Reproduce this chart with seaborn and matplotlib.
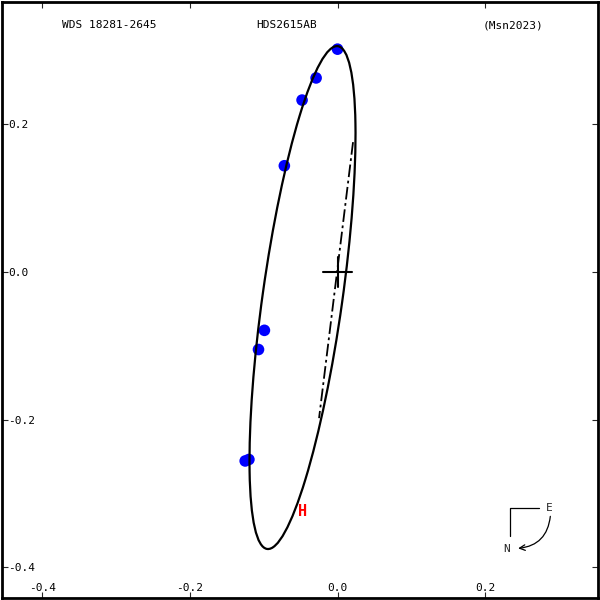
import matplotlib
matplotlib.use("Agg")
import matplotlib.pyplot as plt
from matplotlib.patches import Ellipse
import seaborn as sns

# measured positions of the companion (arcsec)
obs_x = [0.000, -0.029, -0.048, -0.072, -0.099, -0.107, -0.125, -0.120]
obs_y = [0.302, 0.263, 0.233, 0.144, -0.079, -0.105, -0.256, -0.254]
# Hipparcos point
hip_x = [-0.048]
hip_y = [-0.325]

# apparent orbit ellipse
orbit_center = (-0.0474, -0.0346)
orbit_semi_major = 0.344
orbit_semi_minor = 0.0540
orbit_angle = 82.0

# line of nodes end points
node_x = [0.021, -0.025]
node_y = [0.176, -0.198]

ticks = [-0.4, -0.2, 0.0, 0.2]
header = ["WDS 18281-2645", "HDS2615AB", "(Msn2023)"]

sns.set_style("white")
plt.rcParams['font.family'] = ['DejaVu Sans Mono']

fig = plt.figure(figsize=(6, 6), dpi=100)
ax = fig.add_axes([2 / 600, 2 / 600, 596 / 600, 596 / 600])
ax.set_xlim(-0.4543, 0.3527)
ax.set_ylim(-0.4417, 0.3659)

# observations (drawn below the orbit line)
sns.scatterplot(x=obs_x, y=obs_y, color='#0000ff', s=70, edgecolor='none',
                ax=ax, zorder=2, legend=False)

# orbit
orbit = Ellipse(orbit_center, 2 * orbit_semi_major, 2 * orbit_semi_minor,
                angle=orbit_angle, fill=False, edgecolor='black', lw=1.6,
                zorder=3)
ax.add_patch(orbit)

# line of nodes
ax.plot(node_x, node_y, color='black', lw=1.3, ls=(0, (7, 2, 1.5, 2)), zorder=3)

# primary
ax.plot([-0.02, 0.02], [0, 0], color='black', lw=1.5, zorder=4)
ax.plot([0, 0], [-0.02, 0.02], color='black', lw=1.5, zorder=4)

# Hipparcos marker
for hx, hy in zip(hip_x, hip_y):
    ax.text(hx, hy, "H", color='#ff0000', fontsize=11, fontweight='bold',
            ha='center', va='center', zorder=5)

# header line
ax.text(60 / 596, 1 - 23 / 596, header[0], transform=ax.transAxes,
        fontsize=8, ha='left', va='center', color='black')
ax.text(285 / 596, 1 - 23 / 596, header[1], transform=ax.transAxes,
        fontsize=8, ha='center', va='center', color='black')
ax.text(511 / 596, 1 - 23 / 596, header[2], transform=ax.transAxes,
        fontsize=8, ha='center', va='center', color='black')

# compass
ax.plot([0.8517, 0.8517, 0.9017], [0.1033, 0.1517, 0.1517], color='black',
        lw=0.9, transform=ax.transAxes)
ax.text(0.918, 0.1517, "E", transform=ax.transAxes, fontsize=8,
        ha='center', va='center')
ax.text(0.846, 0.0817, "N", transform=ax.transAxes, fontsize=8,
        ha='center', va='center')
ax.annotate("", xy=(0.866, 0.0833), xytext=(0.92, 0.137),
            xycoords='axes fraction', textcoords='axes fraction',
            arrowprops=dict(arrowstyle='->', lw=0.9, color='black',
                            connectionstyle='arc3,rad=-0.4',
                            shrinkA=0, shrinkB=0))

# ticks inside the frame
ax.set_xticks(ticks)
ax.set_yticks(ticks)
ax.set_xticklabels([f"{t:.1f}" for t in ticks])
ax.set_yticklabels([f"{t:.1f}" for t in ticks])
ax.tick_params(direction='in', length=4.5, width=0.8, top=True, right=True,
               bottom=True, left=True, labelsize=8, labelcolor='black')
ax.tick_params(axis='y', pad=-4.5)
ax.tick_params(axis='x', pad=-3.5)
for lab in ax.get_yticklabels():
    lab.set_horizontalalignment('left')
for lab in ax.get_xticklabels():
    lab.set_verticalalignment('bottom')

for sp in ax.spines.values():
    sp.set_linewidth(2.0)
    sp.set_color('black')

ax.set_xlabel('')
ax.set_ylabel('')
fig.savefig("out.png", dpi=100)
